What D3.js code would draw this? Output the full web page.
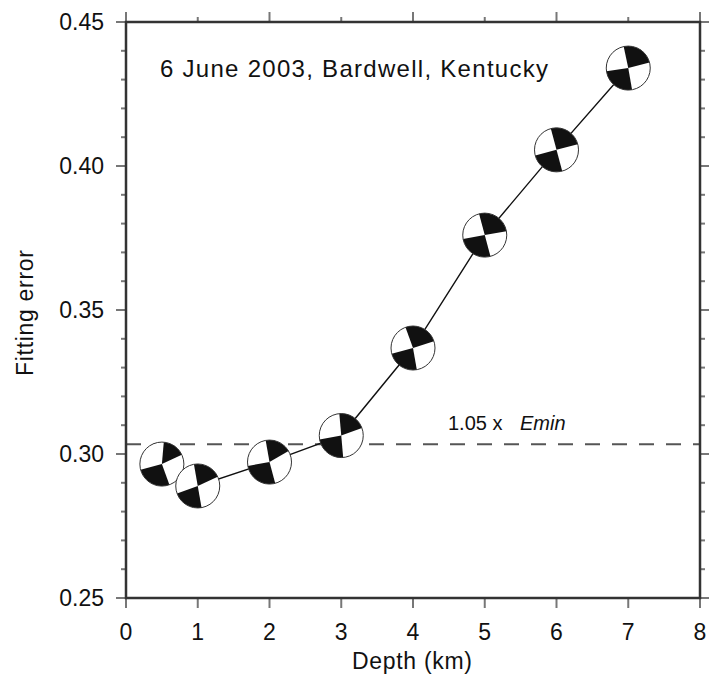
<!DOCTYPE html>
<html>
<head>
<meta charset="utf-8">
<script src="https://cdn.jsdelivr.net/npm/d3@7"></script>
<style>
  body { margin: 0; background: #fff; }
  svg text { font-family: "Liberation Sans", Arial, sans-serif; fill: #111; }
</style>
</head>
<body>
<div id="graph"></div>
<script>
// depth (km) of each inversion and its fitting error
const depths = [0.5, 1, 2, 3, 4, 5, 6, 7];
const errors = [0.2965, 0.2889, 0.2972, 0.3064, 0.3368, 0.3760, 0.4056, 0.4340];
// compressional (black) quadrants of each beach ball, azimuths in degrees
const blackQuads = [
  [[5, 65], [160, 255]],
  [[350, 65], [170, 250]],
  [[350, 60], [165, 260]],
  [[355, 70], [175, 260]],
  [[340, 72], [170, 255]],
  [[345, 80], [165, 260]],
  [[345, 75], [165, 255]],
  [[348, 75], [170, 262]]
];
const xTicks = [0, 1, 2, 3, 4, 5, 6, 7, 8];
const yTicks = [0.25, 0.30, 0.35, 0.40, 0.45];
const title = "6 June 2003, Bardwell, Kentucky";

const W = 709, H = 677;
const plot = {left: 126, right: 700, top: 22, bottom: 598};

const svg = d3.select("#graph").append("svg")
    .attr("width", W)
    .attr("height", H);

const x = d3.scaleLinear().domain([0, 8]).range([plot.left, plot.right]);
const y = d3.scaleLinear().domain([0.25, 0.45]).range([plot.bottom, plot.top]);

const emin = d3.min(errors);
const threshold = 1.05 * emin;

// dashed 1.05 x Emin line
svg.append("line")
    .attr("x1", plot.left).attr("x2", plot.right)
    .attr("y1", y(threshold)).attr("y2", y(threshold))
    .attr("stroke", "#555")
    .attr("stroke-width", 2)
    .attr("stroke-dasharray", "15,12");

const lab = svg.append("text")
    .attr("x", 448).attr("y", 430)
    .attr("font-size", 20);
lab.append("tspan").text("1.05 x");
lab.append("tspan")
    .attr("x", 520)
    .attr("font-style", "italic")
    .text("Emin");

// line through the solutions
const pts = depths.map((d, i) => [d, errors[i]]);
svg.append("path")
    .datum(pts)
    .attr("fill", "none")
    .attr("stroke", "#111")
    .attr("stroke-width", 1.4)
    .attr("d", d3.line().x(d => x(d[0])).y(d => y(d[1])));

// beach balls
const r = 22;
const arc = d3.arc().innerRadius(0).outerRadius(r);
const rad = a => a * Math.PI / 180;

const balls = svg.selectAll(".ball")
    .data(pts)
    .enter()
    .append("g")
    .attr("class", "ball")
    .attr("transform", d => "translate(" + x(d[0]) + "," + y(d[1]) + ")");

balls.append("circle")
    .attr("r", r)
    .attr("fill", "#fff");

balls.each(function(d, i) {
    const g = d3.select(this);
    blackQuads[i].forEach(q => {
        let a1 = q[0], a2 = q[1];
        if (a2 < a1) a1 -= 360;
        g.append("path")
            .attr("d", arc({startAngle: rad(a1), endAngle: rad(a2)}))
            .attr("fill", "#111");
    });
});

balls.append("circle")
    .attr("r", r)
    .attr("fill", "none")
    .attr("stroke", "#333")
    .attr("stroke-width", 1);

// axes: ticks outward on all four sides
const tickColor = "#777";
const frame = svg.append("g");

d3.range(25, 46).forEach(k => {
    const v = k / 100;
    const major = k % 5 === 0;
    frame.append("line")
        .attr("x1", plot.left - (major ? 10 : 5)).attr("x2", plot.left)
        .attr("y1", y(v)).attr("y2", y(v))
        .attr("stroke", tickColor).attr("stroke-width", 2);
    frame.append("line")
        .attr("x1", plot.right).attr("x2", plot.right + (major ? 10 : 5))
        .attr("y1", y(v)).attr("y2", y(v))
        .attr("stroke", tickColor).attr("stroke-width", 2);
});

xTicks.forEach(v => {
    frame.append("line")
        .attr("x1", x(v)).attr("x2", x(v))
        .attr("y1", plot.bottom).attr("y2", plot.bottom + 10)
        .attr("stroke", tickColor).attr("stroke-width", 2);
    frame.append("line")
        .attr("x1", x(v)).attr("x2", x(v))
        .attr("y1", plot.top - (v % 2 === 0 ? 10 : 5)).attr("y2", plot.top)
        .attr("stroke", tickColor).attr("stroke-width", 2);
});

frame.append("rect")
    .attr("x", plot.left).attr("y", plot.top)
    .attr("width", plot.right - plot.left).attr("height", plot.bottom - plot.top)
    .attr("fill", "none")
    .attr("stroke", "#333")
    .attr("stroke-width", 2.5);

// tick labels
svg.selectAll(".ylab")
    .data(yTicks)
    .enter()
    .append("text")
    .attr("class", "ylab")
    .attr("x", 104)
    .attr("y", d => y(d) + 8)
    .attr("text-anchor", "end")
    .attr("font-size", 23)
    .text(d => d.toFixed(2));

svg.selectAll(".xlab")
    .data(xTicks)
    .enter()
    .append("text")
    .attr("class", "xlab")
    .attr("x", d => x(d))
    .attr("y", 640)
    .attr("text-anchor", "middle")
    .attr("font-size", 23)
    .text(d => d);

// axis titles
svg.append("text")
    .attr("x", 412).attr("y", 669)
    .attr("text-anchor", "middle")
    .attr("font-size", 23)
    .attr("textLength", 120)
    .attr("lengthAdjust", "spacing")
    .text("Depth (km)");

svg.append("text")
    .attr("transform", "translate(33,313) rotate(-90)")
    .attr("text-anchor", "middle")
    .attr("font-size", 23)
    .attr("textLength", 126)
    .attr("lengthAdjust", "spacing")
    .text("Fitting error");

svg.append("text")
    .attr("x", 160).attr("y", 77)
    .attr("font-size", 24)
    .attr("textLength", 388)
    .attr("lengthAdjust", "spacing")
    .text(title);
</script>
</body>
</html>
